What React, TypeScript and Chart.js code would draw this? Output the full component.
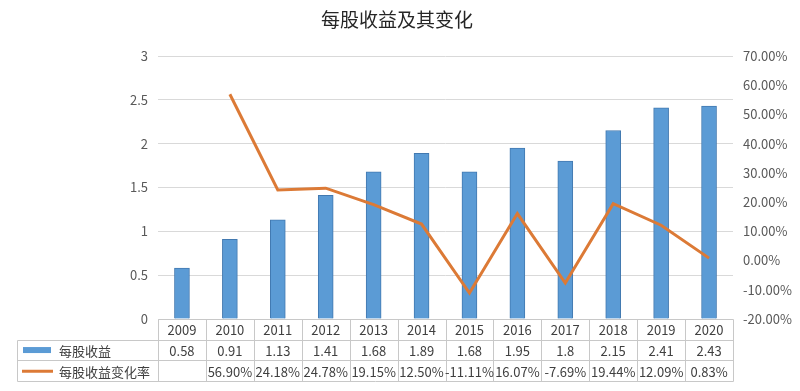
import React, { useEffect, useRef } from "react";
import { Chart, registerables } from "chart.js";

Chart.register(...registerables);

const TITLE = "每股收益及其变化";
const years = ["2009", "2010", "2011", "2012", "2013", "2014", "2015", "2016", "2017", "2018", "2019", "2020"];
const epsName = "每股收益";
const eps = [0.58, 0.91, 1.13, 1.41, 1.68, 1.89, 1.68, 1.95, 1.8, 2.15, 2.41, 2.43];
const epsLabels = ["0.58", "0.91", "1.13", "1.41", "1.68", "1.89", "1.68", "1.95", "1.8", "2.15", "2.41", "2.43"];
const chgName = "每股收益变化率";
const chg: (number | null)[] = [null, 56.9, 24.18, 24.78, 19.15, 12.5, -11.11, 16.07, -7.69, 19.44, 12.09, 0.83];

const BLUE = "#5B9BD5";
const BLUE_EDGE = "#4279B0";
const ORANGE = "#DC7A36";
const FONT = "'Noto Sans CJK SC', 'DejaVu Sans', sans-serif";
const TEXT = "#404040";

const tablePlugin = {
  id: "dataTable",
  afterDraw(chart: any) {
    const { ctx, chartArea } = chart;
    const x = chart.scales.x;
    const n = years.length;
    const left = chartArea.left;
    const right = chartArea.right;
    const colW = (right - left) / n;
    const rowH = 20.7;
    const top = chartArea.bottom;
    const legendLeft = 17;
    ctx.save();
    ctx.strokeStyle = "#c8c8c8";
    ctx.lineWidth = 1;
    const L = (x1: number, y1: number, x2: number, y2: number) => {
      ctx.beginPath();
      ctx.moveTo(Math.round(x1) + 0.5, Math.round(y1) + 0.5);
      ctx.lineTo(Math.round(x2) + 0.5, Math.round(y2) + 0.5);
      ctx.stroke();
    };
    L(left, top, right, top);
    L(legendLeft, top + rowH, right, top + rowH);
    L(legendLeft, top + 2 * rowH, right, top + 2 * rowH);
    L(legendLeft, top + 3 * rowH, right, top + 3 * rowH);
    L(legendLeft, top + rowH, legendLeft, top + 3 * rowH);
    for (let i = 0; i <= n; i++) {
      const xx = left + i * colW;
      L(xx, top, xx, top + 3 * rowH);
    }
    ctx.fillStyle = TEXT;
    ctx.font = `13px ${FONT}`;
    ctx.textAlign = "center";
    ctx.textBaseline = "middle";
    for (let i = 0; i < n; i++) {
      const cx = x.getPixelForValue(i);
      ctx.fillText(years[i], cx, top + rowH / 2 + 1);
      ctx.fillText(epsLabels[i], cx, top + rowH * 1.5 + 1);
      const c = chg[i];
      if (c !== null) ctx.fillText(c.toFixed(2) + "%", cx, top + rowH * 2.5 + 1);
    }
    ctx.fillStyle = BLUE;
    ctx.fillRect(23, top + rowH * 1.5 - 3, 28, 6);
    ctx.strokeStyle = ORANGE;
    ctx.lineWidth = 3;
    ctx.beginPath();
    ctx.moveTo(22, top + rowH * 2.5 + 0.5);
    ctx.lineTo(53, top + rowH * 2.5 + 0.5);
    ctx.stroke();
    ctx.fillStyle = TEXT;
    ctx.textAlign = "left";
    ctx.font = `13px ${FONT}`;
    ctx.fillText(epsName, 59, top + rowH * 1.5 + 1);
    ctx.fillText(chgName, 59, top + rowH * 2.5 + 1);
    ctx.font = `19px ${FONT}`;
    ctx.fillStyle = "#262626";
    ctx.textAlign = "center";
    ctx.fillText(TITLE, 397, 20);
    ctx.restore();
  },
};

export default function App() {
  const ref = useRef<HTMLCanvasElement | null>(null);
  useEffect(() => {
    if (!ref.current) return;
    const chart = new Chart(ref.current, {
      type: "bar",
      data: {
        labels: years,
        datasets: [
          {
            type: "line",
            label: chgName,
            data: chg,
            yAxisID: "y1",
            borderColor: ORANGE,
            backgroundColor: ORANGE,
            borderWidth: 3,
            pointRadius: 0,
            tension: 0,
            order: 0,
          } as any,
          {
            type: "bar",
            label: epsName,
            data: eps,
            yAxisID: "y",
            backgroundColor: BLUE,
            borderColor: BLUE_EDGE,
            borderWidth: 1,
            barThickness: 15,
            order: 1,
          },
        ],
      },
      options: {
        responsive: false,
        animation: false,
        layout: { padding: { top: 56, bottom: 72, left: 0, right: 0 } },
        plugins: { legend: { display: false }, title: { display: false }, tooltip: { enabled: false } },
        scales: {
          x: { display: false, offset: true },
          y: {
            position: "left",
            min: 0,
            max: 3,
            ticks: {
              stepSize: 0.5,
              color: "#595959",
              font: { size: 13, family: FONT },
              padding: 10,
              callback: (v: any) => String(Number(v)),
            },
            grid: { color: "#d9d9d9", drawTicks: false },
            border: { display: false },
            afterFit(scale: any) {
              scale.width = 158;
            },
          },
          y1: {
            position: "right",
            min: -20,
            max: 70,
            ticks: {
              stepSize: 10,
              color: "#595959",
              font: { size: 13, family: FONT },
              padding: 10,
              callback: (v: any) => Number(v).toFixed(2) + "%",
            },
            grid: { display: false, drawTicks: false },
            border: { display: false },
            afterFit(scale: any) {
              scale.width = 67;
            },
          },
        },
      },
      plugins: [tablePlugin],
    });
    return () => chart.destroy();
  }, []);
  return (
    <div style={{ position: "fixed", left: 0, top: 0, width: 800, height: 391, background: "#fff" }}>
      <canvas ref={ref} width={800} height={391} />
    </div>
  );
}
